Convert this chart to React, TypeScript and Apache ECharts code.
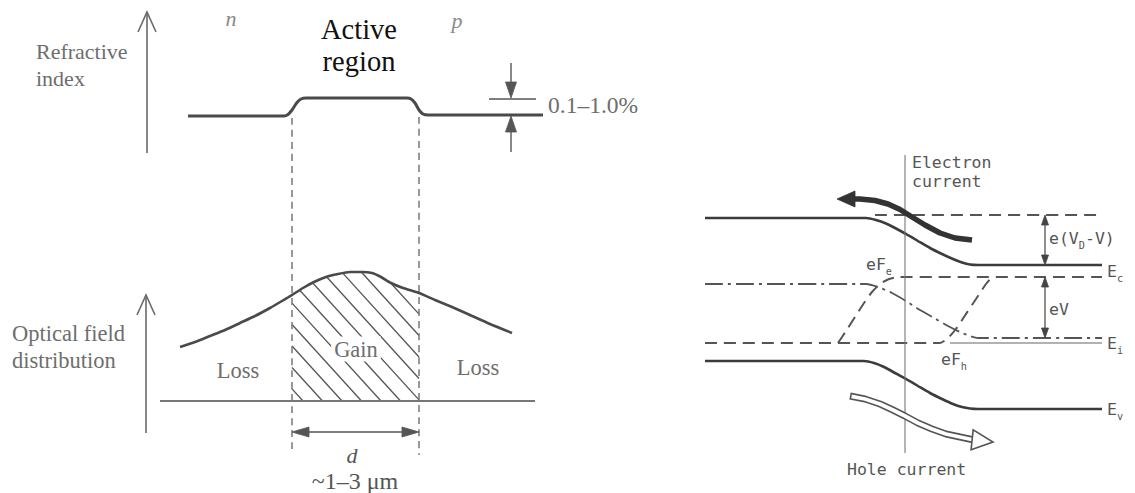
import { useEffect, useRef } from "react";
import * as echarts from "echarts";

type P = [number, number];

// ---------------- Left panel: refractive index profile ----------------
const refractiveProfile: P[] = [
  [188, 116], [284, 116], [288, 114.5], [292, 110], [297, 102.5], [301, 99], [306, 98],
  [407, 98], [411, 99], [415, 103], [419, 110], [423, 114], [428, 115], [543, 115],
];
const refractiveAxis: P[] = [[147, 153], [147, 12]];
const activeBoundaryLeft: P[] = [[292, 118], [292, 453]];
const activeBoundaryRight: P[] = [[419, 117], [419, 455]];
const stepMarkerLine: P[] = [[489, 99], [536, 99]];
const stepArrowDown: P[] = [[511, 63], [511, 98]];
const stepArrowUp: P[] = [[511, 152], [511, 116]];

// ---------------- Left panel: optical field distribution ----------------
const opticalField: P[] = [
  [180, 347], [195, 342], [210, 336], [225, 330], [240, 323], [255, 316], [270, 308],
  [282, 301], [292, 295], [303, 288], [314, 282], [326, 277], [338, 274], [350, 272],
  [362, 272], [372, 273], [381, 277], [391, 283], [403, 288], [419, 293], [435, 300],
  [452, 307], [470, 315], [490, 324], [512, 333],
];
const opticalAxis: P[] = [[146, 433], [146, 295]];
const opticalBaseline: P[] = [[160, 401], [535, 401]];
const activeWidthArrow: P[] = [[292, 432], [419, 432]];

// ---------------- Right panel: band diagram ----------------
const conductionBand: P[] = [
  [705, 218], [866, 218], [876, 220], [886, 223.5], [896, 228.5], [906, 234], [918, 241],
  [930, 248], [942, 254], [953, 259], [962, 262.5], [970, 264.5], [978, 265], [1102, 265],
];
const valenceBand: P[] = [
  [705, 361], [864, 361], [874, 363], [884, 367], [895, 373], [906, 379], [918, 386],
  [930, 393], [942, 399], [953, 404], [962, 407], [970, 408.5], [978, 409], [1102, 409],
];
const nSideBandLevel: P[] = [[875, 215], [1102, 215]];
const electronFermi: P[] = [
  [838, 343], [846, 331], [855, 317], [864, 303], [872, 292], [880, 284], [889, 279],
  [898, 277], [1102, 277],
];
const holeFermi: P[] = [
  [705, 343], [940, 343], [948, 338], [956, 329], [964, 317], [972, 305], [980, 293],
  [986, 284], [992, 277],
];
const intrinsicLevel: P[] = [
  [705, 284], [866, 284], [878, 287], [892, 293], [906, 301], [920, 310], [934, 318],
  [948, 326], [960, 332], [970, 336], [978, 338], [1102, 338],
];
const pSideLevel: P[] = [[950, 343], [1102, 343]];
const junctionLine: P[] = [[905, 155], [905, 453]];
const electronCurrent: P[] = [
  [972, 240], [955, 238], [940, 233], [925, 225], [912, 217], [900, 209.5], [888, 204],
  [875, 200.5], [860, 199], [837, 199],
];
const holeCurrent: P[] = [
  [850, 396], [865, 399], [880, 404], [893, 410], [905, 416], [918, 423], [932, 429],
  [946, 434], [960, 437], [974, 440], [993, 442],
];
const barrierArrow: P[] = [[1045, 215], [1045, 265]];
const biasArrow: P[] = [[1045, 277], [1045, 338]];

// ---------------- styles ----------------
const SERIF = "'Liberation Serif', 'DejaVu Serif', serif";
const TECH = "'DejaVu Sans Mono', monospace";
const CURVE = "#4a4a4a";
const AXIS = "#6a6a6a";
const TXT = "#6e6e6e";
const BAND = "#3c3c3c";

type ArrowSpec = {
  pts: P[];
  head: "open" | "filled" | "hollow";
  both?: boolean;
  color: string;
  width: number;
  len: number;
  hw: number;
};

const arrowSpecs: ArrowSpec[] = [
  { pts: refractiveAxis, head: "open", color: AXIS, width: 1.6, len: 20, hw: 9 },
  { pts: opticalAxis, head: "open", color: AXIS, width: 1.6, len: 20, hw: 9 },
  { pts: stepArrowDown, head: "filled", color: "#555", width: 1.4, len: 16, hw: 5.5 },
  { pts: stepArrowUp, head: "filled", color: "#555", width: 1.4, len: 16, hw: 5.5 },
  { pts: activeWidthArrow, head: "filled", both: true, color: "#555", width: 1.6, len: 17, hw: 5 },
  { pts: barrierArrow, head: "filled", both: true, color: "#444", width: 1.2, len: 10, hw: 3.5 },
  { pts: biasArrow, head: "filled", both: true, color: "#444", width: 1.2, len: 10, hw: 3.5 },
  { pts: electronCurrent, head: "filled", color: "#333", width: 5.5, len: 18, hw: 8 },
  { pts: holeCurrent, head: "hollow", color: "#555", width: 7, len: 21, hw: 10 },
];

function interpY(pts: P[], x: number) {
  for (let i = 1; i < pts.length; i++) {
    if (x <= pts[i][0]) {
      const [x0, y0] = pts[i - 1];
      const [x1, y1] = pts[i];
      return y0 + ((y1 - y0) * (x - x0)) / (x1 - x0);
    }
  }
  return pts[pts.length - 1][1];
}

function line(data: P[], color: string, width: number, type: any = "solid", z = 2) {
  return {
    type: "line",
    data,
    showSymbol: false,
    symbol: "none",
    silent: true,
    smooth: 0.2,
    z,
    lineStyle: { color, width, type, cap: "butt" },
    emphasis: { disabled: true },
  };
}

function renderArrow(params: any, api: any) {
  const spec = arrowSpecs[params.dataIndex];
  const px: number[][] = spec.pts.map((p) => api.coord(p));
  const children: any[] = [];
  const head = (tip: number[], from: number[]) => {
    const dx = tip[0] - from[0];
    const dy = tip[1] - from[1];
    const L = Math.hypot(dx, dy) || 1;
    const ux = dx / L, uy = dy / L;
    const bx = tip[0] - ux * spec.len, by = tip[1] - uy * spec.len;
    const nx = -uy, ny = ux;
    return {
      tip,
      u: [ux, uy],
      left: [bx + nx * spec.hw, by + ny * spec.hw],
      right: [bx - nx * spec.hw, by - ny * spec.hw],
    };
  };
  const n = px.length;
  const endH = head(px[n - 1], px[n - 2]);
  const startH = spec.both ? head(px[0], px[1]) : null;
  const trim = spec.head === "open" ? 0 : spec.len * 0.75;
  const shaft = px.map((p) => [p[0], p[1]]);
  shaft[n - 1] = [px[n - 1][0] - endH.u[0] * trim, px[n - 1][1] - endH.u[1] * trim];
  if (startH) shaft[0] = [px[0][0] - startH.u[0] * trim, px[0][1] - startH.u[1] * trim];

  if (spec.head === "hollow") {
    const inner = shaft.map((p) => [p[0], p[1]]);
    const d0 = [shaft[1][0] - shaft[0][0], shaft[1][1] - shaft[0][1]];
    const l0 = Math.hypot(d0[0], d0[1]);
    inner[0] = [shaft[0][0] + (d0[0] / l0) * 1.6, shaft[0][1] + (d0[1] / l0) * 1.6];
    const innerEnd = [px[n - 1][0] - endH.u[0] * (spec.len - 1), px[n - 1][1] - endH.u[1] * (spec.len - 1)];
    inner[n - 1] = innerEnd;
    children.push({
      type: "polyline",
      shape: { points: shaft },
      style: { stroke: spec.color, lineWidth: spec.width, fill: "none", lineJoin: "round", lineCap: "butt" },
    });
    children.push({
      type: "polyline",
      shape: { points: inner },
      style: { stroke: "#fff", lineWidth: spec.width - 3.2, fill: "none", lineJoin: "round", lineCap: "butt" },
    });
    children.push({
      type: "polygon",
      shape: { points: [endH.left, endH.tip, endH.right] },
      style: { fill: "#fff", stroke: spec.color, lineWidth: 1.6, lineJoin: "miter" },
    });
    return { type: "group", children };
  }

  children.push({
    type: "polyline",
    shape: { points: shaft },
    style: { stroke: spec.color, lineWidth: spec.width, fill: "none", lineJoin: "round", lineCap: "butt" },
  });
  const heads = startH ? [endH, startH] : [endH];
  heads.forEach((h) => {
    if (spec.head === "open") {
      children.push({
        type: "polyline",
        shape: { points: [h.left, h.tip, h.right] },
        style: { stroke: spec.color, lineWidth: spec.width, fill: "none", lineJoin: "miter" },
      });
    } else {
      children.push({
        type: "polygon",
        shape: { points: [h.left, h.tip, h.right] },
        style: { fill: spec.color, stroke: spec.color, lineWidth: 0.8 },
      });
    }
  });
  return { type: "group", children };
}

function renderHatch(_params: any, api: any) {
  const x0 = activeBoundaryLeft[0][0];
  const x1 = activeBoundaryRight[0][0];
  const base = opticalBaseline[0][1];
  const k = 1.1;
  const spacing = 19.5;
  const children: any[] = [];
  for (let c = x0 + 11; c < x1 + (base - 260) / k; c += spacing) {
    const xe = Math.min(c, x1);
    const ye = base - k * (c - xe);
    if (ye <= interpY(opticalField, xe)) continue;
    let xs = xe;
    while (xs - 0.5 >= x0 && base - k * (c - (xs - 0.5)) >= interpY(opticalField, xs - 0.5)) xs -= 0.5;
    const ys = base - k * (c - xs);
    const a = api.coord([xs, ys]);
    const b = api.coord([xe, ye]);
    children.push({
      type: "line",
      shape: { x1: a[0], y1: a[1], x2: b[0], y2: b[1] },
      style: { stroke: "#555", lineWidth: 1.3 },
    });
  }
  return { type: "group", children };
}

type Label = {
  t: string;
  x: number;
  y: number;
  size: number;
  family: string;
  color: string;
  align?: "left" | "center" | "right";
  italic?: boolean;
  bg?: boolean;
  sub?: boolean;
};

const labels: Label[] = [
  { t: "Refractive", x: 36, y: 51, size: 22, family: SERIF, color: TXT },
  { t: "index", x: 36, y: 78, size: 22, family: SERIF, color: TXT },
  { t: "n", x: 231, y: 18, size: 22, family: SERIF, color: "#8a8a8a", align: "center", italic: true },
  { t: "p", x: 457, y: 20, size: 22, family: SERIF, color: "#8a8a8a", align: "center", italic: true },
  { t: "Active", x: 359, y: 29, size: 28.5, family: SERIF, color: "#111", align: "center" },
  { t: "region", x: 359, y: 61, size: 28.5, family: SERIF, color: "#111", align: "center" },
  { t: "0.1–1.0%", x: 548, y: 105, size: 23.5, family: SERIF, color: TXT },
  { t: "Optical field", x: 12, y: 333, size: 22.5, family: SERIF, color: TXT },
  { t: "distribution", x: 12, y: 360, size: 22.5, family: SERIF, color: TXT },
  { t: "Loss", x: 238, y: 370, size: 22.5, family: SERIF, color: TXT, align: "center" },
  { t: "Gain", x: 356, y: 349, size: 22.5, family: SERIF, color: TXT, align: "center", bg: true },
  { t: "Loss", x: 478, y: 367, size: 22.5, family: SERIF, color: TXT, align: "center" },
  { t: "d", x: 352, y: 455, size: 22, family: SERIF, color: "#555", align: "center", italic: true },
  { t: "~1–3 μm", x: 355, y: 481, size: 24, family: SERIF, color: "#555", align: "center" },
  { t: "Electron", x: 912, y: 162, size: 16.5, family: TECH, color: "#555" },
  { t: "current", x: 912, y: 181, size: 16.5, family: TECH, color: "#555" },
  { t: "{b|e(V}{s|D}{b|-V)}", x: 1049, y: 238, size: 16.5, family: TECH, color: "#555", sub: true },
  { t: "{b|E}{s|c}", x: 1107, y: 271, size: 16.5, family: TECH, color: "#555", sub: true },
  { t: "{b|eF}{s|e}", x: 866, y: 264, size: 16.5, family: TECH, color: "#555", sub: true },
  { t: "eV", x: 1049, y: 309, size: 16.5, family: TECH, color: "#555" },
  { t: "{b|E}{s|i}", x: 1107, y: 343, size: 16.5, family: TECH, color: "#555", sub: true },
  { t: "{b|eF}{s|h}", x: 941, y: 359, size: 16.5, family: TECH, color: "#555", sub: true },
  { t: "{b|E}{s|v}", x: 1107, y: 409, size: 16.5, family: TECH, color: "#555", sub: true },
  { t: "Hole current", x: 847, y: 469, size: 16.5, family: TECH, color: "#555" },
];

function buildGraphic() {
  return labels.map((l) => {
    const style: any = {
      text: l.t,
      fill: l.color,
      fontFamily: l.family,
      fontSize: l.size,
      fontStyle: l.italic ? "italic" : "normal",
      align: l.align || "left",
      verticalAlign: "middle",
    };
    if (l.bg) {
      style.backgroundColor = "#fff";
      style.padding = [1, 3];
    }
    if (l.sub) {
      style.rich = {
        b: { fontFamily: l.family, fontSize: l.size, fill: l.color, lineHeight: 24, verticalAlign: "middle" },
        s: { fontFamily: l.family, fontSize: l.size * 0.62, fill: l.color, lineHeight: 24, verticalAlign: "bottom" },
      };
    }
    return { type: "text", x: l.x, y: l.y, z: 100, silent: true, style };
  });
}

function buildOption() {
  return {
    animation: false,
    backgroundColor: "#fff",
    grid: { left: 0, right: 0, top: 0, bottom: 0 },
    xAxis: { type: "value", min: 0, max: 1135, show: false },
    yAxis: { type: "value", min: 0, max: 493, inverse: true, show: false },
    series: [
      line(refractiveProfile, CURVE, 3),
      line(activeBoundaryLeft, "#777", 1.5, [7, 5]),
      line(activeBoundaryRight, "#777", 1.5, [7, 5]),
      line(stepMarkerLine, "#555", 1.5),
      line(opticalField, CURVE, 2.6, "solid", 3),
      line(opticalBaseline, "#777", 2),
      line(conductionBand, BAND, 2.6),
      line(valenceBand, BAND, 2.6),
      line(nSideBandLevel, "#555", 2, [12, 7]),
      line(electronFermi, "#555", 2, [12, 7]),
      line(holeFermi, "#555", 2, [12, 7]),
      line(intrinsicLevel, "#555", 1.8, [18, 5, 3, 5]),
      line(pSideLevel, "#666", 1.2),
      line(junctionLine, "#777", 1.1),
      {
        type: "custom",
        coordinateSystem: "cartesian2d",
        silent: true,
        z: 2,
        data: [[0, 0]],
        renderItem: renderHatch,
      },
      {
        type: "custom",
        coordinateSystem: "cartesian2d",
        silent: true,
        z: 4,
        data: arrowSpecs.map((_, i) => [i, 0]),
        renderItem: renderArrow,
      },
    ],
    graphic: { elements: buildGraphic() },
  };
}

export default function App() {
  const ref = useRef<HTMLDivElement>(null);
  useEffect(() => {
    const chart = echarts.init(ref.current!, null, { renderer: "svg" });
    chart.setOption(buildOption() as any);
    return () => chart.dispose();
  }, []);
  return (
    <div
      ref={ref}
      style={{ position: "fixed", left: 0, top: 0, width: 1135, height: 493, background: "#fff" }}
    />
  );
}
